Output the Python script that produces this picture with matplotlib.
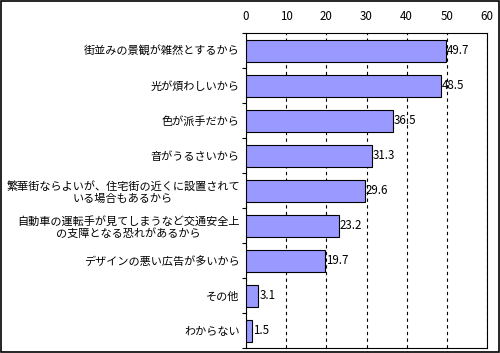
import matplotlib
matplotlib.use("Agg")
import matplotlib.pyplot as plt
from matplotlib.patches import Rectangle

plt.rcParams['font.family'] = ['Noto Sans CJK JP', 'DejaVu Sans']

# data
reasons = [
    "街並みの景観が雑然とするから",
    "光が煩わしいから",
    "色が派手だから",
    "音がうるさいから",
    "繁華街ならよいが、住宅街の近くに設置されて\nいる場合もあるから",
    "自動車の運転手が見てしまうなど交通安全上\nの支障となる恐れがあるから",
    "デザインの悪い広告が多いから",
    "その他",
    "わからない",
]
values = [49.7, 48.5, 36.5, 31.3, 29.6, 23.2, 19.7, 3.1, 1.5]
xticks = [0, 10, 20, 30, 40, 50, 60]

fig = plt.figure(figsize=(5, 3.53), dpi=100)
ax = fig.add_axes([0.492, 0.014, 0.482, 0.892])

ypos = list(range(len(values)))
ax.barh(ypos, values, height=0.63, color="#9999FF", edgecolor="black", linewidth=0.8, zorder=3)
for y, v in zip(ypos, values):
    ax.text(v + 0.2, y, f"{v}", va="center", ha="left", fontsize=8.3, zorder=4)

ax.set_xlim(0, 60)
ax.set_ylim(len(values) - 0.5, -0.5)
ax.set_xticks(xticks)
ax.xaxis.tick_top()
ax.tick_params(axis="x", length=0, labelsize=8.3, pad=7)
ax.grid(axis="x", color="black", linestyle=(0, (3, 3)), linewidth=0.8, zorder=1)

# category labels
ax.set_yticks(ypos)
ax.set_yticklabels(reasons, fontsize=8, multialignment="center")
ax.tick_params(axis="y", length=0, pad=4.5)
ax.set_yticks([i + 0.5 for i in range(-1, len(values))], minor=True)
ax.tick_params(axis="y", which="minor", length=3, width=0.8)

for s in ax.spines.values():
    s.set_linewidth(0.8)

fig.patches.append(Rectangle((0.002, 0.003), 0.996, 0.994, transform=fig.transFigure,
                             fill=False, edgecolor="black", linewidth=1.2))

fig.savefig("out.png", dpi=100)
